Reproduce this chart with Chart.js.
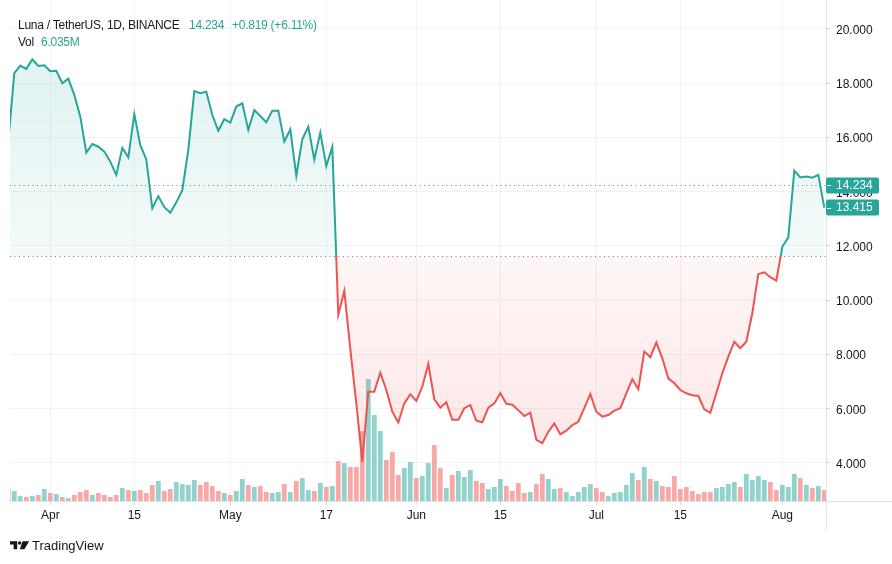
<!DOCTYPE html>
<html>
<head>
<meta charset="utf-8">
<script src="https://cdn.jsdelivr.net/npm/chart.js@4.4.1/dist/chart.umd.min.js"></script>
<style>
  body { margin: 0; background: #fff; font-family: "Liberation Sans", Arial, sans-serif; }
  #wrap { position: relative; width: 892px; height: 564px; }
  canvas { position: absolute; left: 0; top: 0; }
  .t { position: absolute; font-size: 12px; line-height: 14px; white-space: nowrap; letter-spacing: -0.25px; color: #131722; }
  .g { color: #26a69a; }
</style>
</head>
<body>
<div id="wrap">
  <canvas id="chart" width="892" height="564"></canvas>
  <div class="t" style="left:18px;top:18px">Luna / TetherUS, 1D, BINANCE</div>
  <div class="t g" style="left:189px;top:18px">14.234</div>
  <div class="t g" style="left:232px;top:18px">+0.819 (+6.11%)</div>
  <div class="t" style="left:18px;top:35px">Vol</div>
  <div class="t g" style="left:41px;top:35px">6.035M</div>
  <svg style="position:absolute;left:0;top:530px" width="32" height="30">
    <path d="M10 11.3 H17.2 V19.3 H13.6 V14.6 H10 Z" fill="#131722"/>
    <circle cx="19.6" cy="13" r="1.7" fill="#131722"/>
    <path d="M22.6 11.3 H29.2 L24.4 19.3 H19.8 Z" fill="#131722"/>
  </svg>
  <div class="t" style="left:32px;top:538px;font-size:13px;line-height:16px;letter-spacing:0">TradingView</div>
</div>
<script>
// daily closes, Mar 25 -> Aug 8 (index 0 = Mar 25)
const closes = [
  15.87, 18.37, 18.65, 18.53, 18.88, 18.64, 18.66, 18.44, 18.46, 18.00,
  18.17, 17.57, 16.77, 15.44, 15.76, 15.66, 15.48, 15.11, 14.62, 15.62,
  15.27, 16.86, 15.72, 15.19, 13.39, 13.84, 13.43, 13.23, 13.61, 14.06,
  15.54, 17.71, 17.63, 17.69, 16.83, 16.25, 16.68, 16.55, 17.14, 17.26,
  16.28, 17.01, 16.79, 16.56, 16.99, 16.99, 15.85, 16.30, 14.59, 15.93,
  16.40, 15.19, 16.18, 14.95, 15.66, 9.46, 10.35, 8.20, 6.20, 4.05,
  6.63, 6.63, 7.33, 6.69, 5.89, 5.49, 6.20, 6.53, 6.29, 6.81,
  7.65, 6.35, 6.04, 6.24, 5.59, 5.59, 6.02, 6.13, 5.56, 5.50,
  6.04, 6.20, 6.57, 6.18, 6.15, 5.95, 5.73, 5.85, 4.85, 4.73,
  5.15, 5.46, 5.06, 5.19, 5.40, 5.52, 6.02, 6.54, 5.89, 5.71,
  5.77, 5.93, 6.02, 6.57, 7.09, 6.72, 8.11, 7.90, 8.44, 7.86,
  7.12, 6.94, 6.69, 6.57, 6.50, 6.47, 5.98, 5.85, 6.57, 7.31,
  7.92, 8.47, 8.23, 8.47, 9.52, 10.97, 11.03, 10.85, 10.72, 11.97,
  12.32, 14.78, 14.53, 14.56, 14.52, 14.62, 13.415
];

// volume in millions
const volumes = [
  6.7, 5.5, 2.7, 2.2, 2.7, 3.3, 6.6, 4.4, 3.8, 2.2,
  1.6, 3.3, 4.9, 6.0, 3.3, 4.4, 3.3, 2.2, 3.3, 7.1,
  6.0, 5.5, 6.0, 4.4, 8.8, 11.0, 5.5, 6.6, 10.4, 9.3,
  8.8, 11.5, 8.8, 10.4, 8.2, 5.5, 4.4, 3.3, 5.5, 12.1,
  8.8, 7.7, 8.2, 4.9, 4.4, 4.9, 9.3, 4.9, 11.0, 12.6,
  6.0, 5.5, 9.9, 7.7, 8.2, 21.9, 20.8, 18.7, 18.7, 38.4,
  66.9, 47.2, 38.4, 22.5, 26.9, 14.3, 18.1, 21.4, 12.6, 13.7,
  20.8, 30.7, 18.1, 7.1, 14.3, 16.5, 13.2, 17.0, 11.0, 9.9,
  6.6, 7.7, 12.1, 8.2, 5.5, 9.9, 4.4, 4.9, 9.3, 14.8,
  12.1, 6.6, 7.1, 4.9, 2.7, 4.9, 7.7, 9.3, 7.1, 4.9,
  2.7, 4.4, 4.9, 8.8, 15.4, 11.5, 18.7, 12.1, 11.0, 8.2,
  7.7, 13.7, 6.6, 7.7, 5.5, 3.8, 4.9, 4.9, 7.1, 7.7,
  9.3, 10.4, 7.7, 14.8, 11.5, 13.7, 11.5, 10.4, 6.0, 8.8,
  7.7, 14.8, 12.6, 8.8, 7.1, 8.2, 6.035
];

// 1 = up candle (teal volume), 0 = down candle (red volume)
const volUp = [
  0, 1, 1, 0, 1, 0, 1, 0, 1, 0,
  1, 0, 0, 0, 1, 0, 0, 0, 0, 1,
  0, 1, 0, 0, 0, 1, 0, 0, 1, 1,
  1, 1, 0, 0, 0, 0, 1, 0, 1, 1,
  0, 1, 0, 0, 1, 1, 0, 1, 0, 1,
  1, 0, 1, 0, 1, 0, 1, 0, 0, 0,
  1, 1, 1, 0, 0, 0, 1, 1, 0, 1,
  1, 0, 0, 1, 0, 1, 1, 1, 0, 0,
  1, 1, 1, 0, 0, 0, 0, 1, 0, 0,
  1, 1, 0, 1, 1, 1, 1, 1, 0, 0,
  1, 1, 1, 1, 1, 0, 1, 0, 1, 0,
  0, 0, 0, 0, 0, 0, 0, 0, 1, 1,
  1, 1, 0, 1, 1, 1, 1, 0, 0, 1,
  1, 1, 0, 1, 0, 1, 0
];

const tickDays = [7, 21, 37, 53, 68, 82, 98, 112, 129];
const tickLabels = ["Apr", "15", "May", "17", "Jun", "15", "Jul", "15", "Aug"];
const priceTicks = [4, 6, 8, 10, 12, 14, 16, 18, 20];

const baseline = 11.62;
const lastPrice = 14.234;
const lastClose = 13.415;

const teal = "#26a69a";
const red = "#ef5350";
const gridColor = "rgba(42,46,57,0.06)";
const axisColor = "#e0e3eb";
const textColor = "#131722";

Chart.defaults.font.family = '"Liberation Sans", Arial, sans-serif';
Chart.defaults.font.size = 12;

const days = closes.map((_, i) => i);

// vertical gradient with a hard stop at the baseline
function splitGradient(chart, topCol, midTop, midBot, botCol) {
  const { ctx, chartArea, scales } = chart;
  if (!chartArea) return null;
  const yb = scales.y.getPixelForValue(baseline);
  let f = (yb - chartArea.top) / (chartArea.bottom - chartArea.top);
  f = Math.min(Math.max(f, 0), 1);
  const g = ctx.createLinearGradient(0, chartArea.top, 0, chartArea.bottom);
  g.addColorStop(0, topCol);
  g.addColorStop(f, midTop);
  g.addColorStop(f, midBot);
  g.addColorStop(1, botCol);
  return g;
}

// fixed range + no edge padding for label overflow
function pinScale(s, lo, hi, ticks) {
  s.ticks = ticks.map((v) => ({ value: v }));
  s.min = lo;
  s.max = hi;
}
function noPad(s) {
  s.paddingTop = 0;
  s.paddingBottom = 0;
  s.paddingLeft = 0;
  s.paddingRight = 0;
}

const extras = {
  id: "extras",
  beforeDatasetsDraw(chart) {
    const { ctx, chartArea, scales } = chart;
    ctx.save();
    ctx.lineWidth = 1;
    ctx.setLineDash([1, 3.5]);
    let y = Math.round(scales.y.getPixelForValue(lastPrice)) + 0.5;
    ctx.strokeStyle = teal;
    ctx.beginPath();
    ctx.moveTo(chartArea.left, y);
    ctx.lineTo(chartArea.right, y);
    ctx.stroke();
    y = Math.round(scales.y.getPixelForValue(baseline)) + 0.5;
    ctx.strokeStyle = "#787b86";
    ctx.beginPath();
    ctx.moveTo(chartArea.left, y);
    ctx.lineTo(chartArea.right, y);
    ctx.stroke();
    ctx.restore();
  },
  afterDraw(chart) {
    const { ctx, chartArea, scales } = chart;
    ctx.save();
    ctx.strokeStyle = axisColor;
    ctx.lineWidth = 1;
    ctx.beginPath();
    ctx.moveTo(chartArea.right, chartArea.bottom + 0.5);
    ctx.lineTo(892, chartArea.bottom + 0.5);
    ctx.moveTo(chartArea.right + 0.5, chartArea.bottom);
    ctx.lineTo(chartArea.right + 0.5, 530);
    ctx.stroke();

    [lastPrice, lastClose].forEach((v) => {
      const y = scales.y.getPixelForValue(v);
      ctx.fillStyle = teal;
      ctx.beginPath();
      ctx.roundRect(chartArea.right, y - 8, 53, 16, 2);
      ctx.fill();
      ctx.strokeStyle = "#ffffff";
      ctx.beginPath();
      ctx.moveTo(chartArea.right + 1, Math.round(y) + 0.5);
      ctx.lineTo(chartArea.right + 5, Math.round(y) + 0.5);
      ctx.stroke();
      ctx.fillStyle = "#ffffff";
      ctx.font = '12px "Liberation Sans", Arial, sans-serif';
      ctx.textBaseline = "middle";
      ctx.fillText(v.toFixed(3), chartArea.right + 10, y + 0.5);
    });
    ctx.restore();
  }
};

new Chart(document.getElementById("chart"), {
  type: "line",
  data: {
    datasets: [
      {
        type: "line",
        data: days.map((d) => ({ x: d, y: closes[d] })),
        yAxisID: "y",
        borderWidth: 2,
        pointRadius: 0,
        tension: 0,
        clip: 0,
        fill: { value: baseline },
        borderColor: (c) => splitGradient(c.chart, teal, teal, red, red) || teal,
        backgroundColor: (c) => splitGradient(c.chart,
          "rgba(38,166,154,0.17)", "rgba(38,166,154,0.05)",
          "rgba(239,83,80,0.05)", "rgba(239,83,80,0.16)") || "rgba(38,166,154,0.1)"
      },
      {
        type: "bar",
        data: days.map((d) => ({ x: d, y: volumes[d] })),
        yAxisID: "vol",
        backgroundColor: volUp.map((u) => (u ? "rgba(38,166,154,0.5)" : "rgba(239,83,80,0.5)")),
        barPercentage: 0.8,
        categoryPercentage: 1,
        clip: 0
      }
    ]
  },
  options: {
    responsive: false,
    animation: false,
    layout: { padding: { left: 10, top: 0, right: 0, bottom: 0 } },
    plugins: { legend: { display: false }, tooltip: { enabled: false } },
    scales: {
      x: {
        type: "linear",
        position: "bottom",
        offset: false,
        min: 0.283,
        max: 136.28,
        afterBuildTicks: (s) => pinScale(s, 0.283, 136.28, tickDays),
        afterFit: (s) => { s.height = 63; noPad(s); },
        ticks: {
          autoSkip: false,
          maxRotation: 0,
          padding: 3,
          color: textColor,
          callback: (v, i) => tickLabels[i]
        },
        grid: { offset: false, color: gridColor, tickColor: "#d1d4dc", tickLength: 4 },
        border: { color: axisColor }
      },
      y: {
        type: "linear",
        position: "right",
        min: 2.599,
        max: 21.069,
        afterBuildTicks: (s) => pinScale(s, 2.599, 21.069, priceTicks),
        afterFit: (s) => { s.width = 66; noPad(s); },
        ticks: {
          padding: 6,
          labelOffset: 1.5,
          color: textColor,
          callback: (v) => v.toFixed(3)
        },
        grid: { color: gridColor, tickColor: "#d1d4dc", tickLength: 4 },
        border: { color: axisColor }
      },
      vol: {
        type: "linear",
        display: false,
        min: 0,
        max: 275
      }
    }
  },
  plugins: [extras]
});
</script>
</body>
</html>
